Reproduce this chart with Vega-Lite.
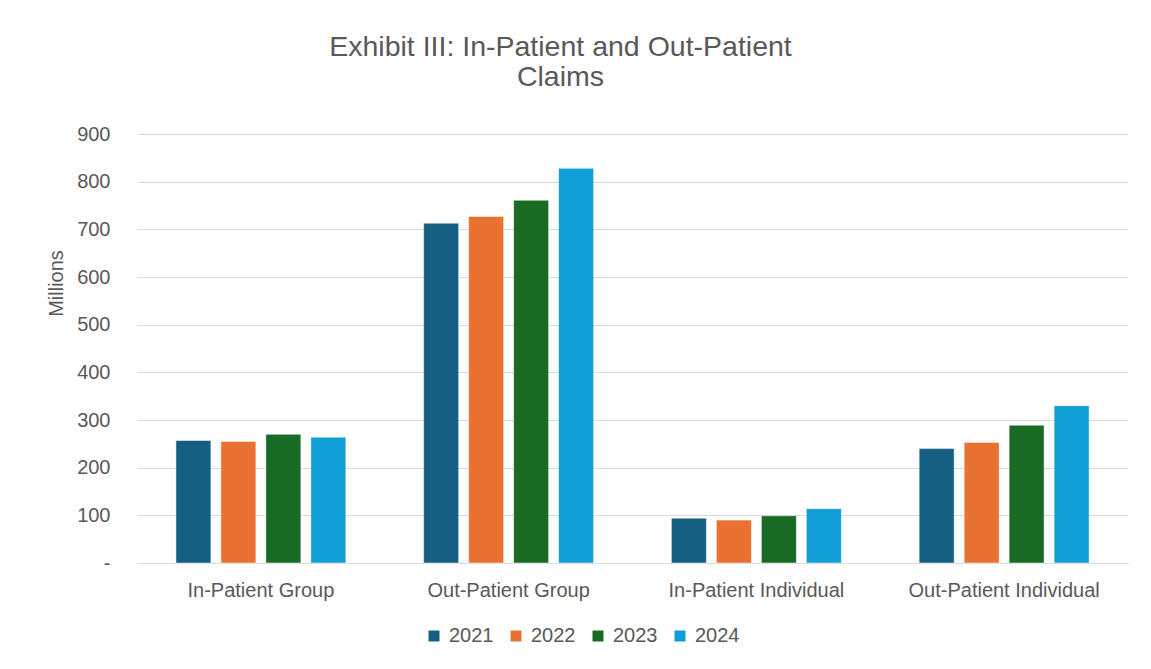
{
  "$schema": "https://vega.github.io/schema/vega-lite/v6.json",
  "width": 991,
  "height": 429,
  "autosize": {"type": "none"},
  "padding": {"left": 137, "top": 134, "right": 23, "bottom": 106},
  "background": "white",
  "title": {
    "text": ["Exhibit III: In-Patient and Out-Patient", "Claims"],
    "font": "Liberation Sans",
    "fontSize": 28.5,
    "fontWeight": "normal",
    "color": "#595959",
    "anchor": "middle",
    "dx": -72,
    "offset": 33,
    "lineHeight": 30
  },
  "data": {
    "values": [
      {"category": "In-Patient Group", "year": "2021", "value": 257},
      {"category": "In-Patient Group", "year": "2022", "value": 255},
      {"category": "In-Patient Group", "year": "2023", "value": 270},
      {"category": "In-Patient Group", "year": "2024", "value": 264},
      {"category": "Out-Patient Group", "year": "2021", "value": 713},
      {"category": "Out-Patient Group", "year": "2022", "value": 727},
      {"category": "Out-Patient Group", "year": "2023", "value": 761},
      {"category": "Out-Patient Group", "year": "2024", "value": 828},
      {"category": "In-Patient Individual", "year": "2021", "value": 94},
      {"category": "In-Patient Individual", "year": "2022", "value": 90},
      {"category": "In-Patient Individual", "year": "2023", "value": 99},
      {"category": "In-Patient Individual", "year": "2024", "value": 114},
      {"category": "Out-Patient Individual", "year": "2021", "value": 240},
      {"category": "Out-Patient Individual", "year": "2022", "value": 253},
      {"category": "Out-Patient Individual", "year": "2023", "value": 289},
      {"category": "Out-Patient Individual", "year": "2024", "value": 330}
    ]
  },
  "mark": {"type": "bar", "stroke": "white", "strokeWidth": 0.5},
  "encoding": {
    "x": {
      "field": "category",
      "type": "nominal",
      "sort": ["In-Patient Group", "Out-Patient Group", "In-Patient Individual", "Out-Patient Individual"],
      "scale": {"paddingInner": 0.314, "paddingOuter": 0.157},
      "axis": {
        "title": null,
        "labelAngle": 0,
        "labelFont": "Liberation Sans",
        "labelFontSize": 20,
        "labelLimit": 0,
        "labelColor": "#595959",
        "labelPadding": 17,
        "ticks": false,
        "domainColor": "#d9d9d9",
        "domainWidth": 1
      }
    },
    "xOffset": {
      "field": "year",
      "type": "nominal",
      "scale": {"paddingInner": 0.222, "paddingOuter": 0}
    },
    "y": {
      "field": "value",
      "type": "quantitative",
      "scale": {"domain": [0, 900], "nice": false},
      "axis": {
        "values": [0, 100, 200, 300, 400, 500, 600, 700, 800, 900],
        "labelExpr": "datum.value == 0 ? '-' : datum.label",
        "title": "Millions",
        "titleFont": "Liberation Sans",
        "titleFontSize": 20,
        "titleFontWeight": "normal",
        "titleColor": "#595959",
        "titleAngle": -90,
        "titleX": -71,
        "titleY": 149,
        "titleAlign": "center",
        "labelFont": "Liberation Sans",
        "labelFontSize": 20,
        "labelColor": "#595959",
        "labelPadding": 27,
        "ticks": false,
        "domain": false,
        "gridColor": "#d9d9d9",
        "gridWidth": 1
      }
    },
    "color": {
      "field": "year",
      "type": "nominal",
      "scale": {"domain": ["2021", "2022", "2023", "2024"], "range": ["#156082", "#E97132", "#196B24", "#0F9ED5"]},
      "legend": {
        "title": null,
        "orient": "none",
        "direction": "horizontal",
        "legendX": 287,
        "legendY": 492,
        "symbolType": "square",
        "symbolSize": 121,
        "symbolStrokeWidth": 0,
        "labelFont": "Liberation Sans",
        "labelFontSize": 20,
        "labelColor": "#595959",
        "labelOffset": 5,
        "columnPadding": 12
      }
    }
  },
  "config": {
    "view": {"stroke": null}
  }
}
